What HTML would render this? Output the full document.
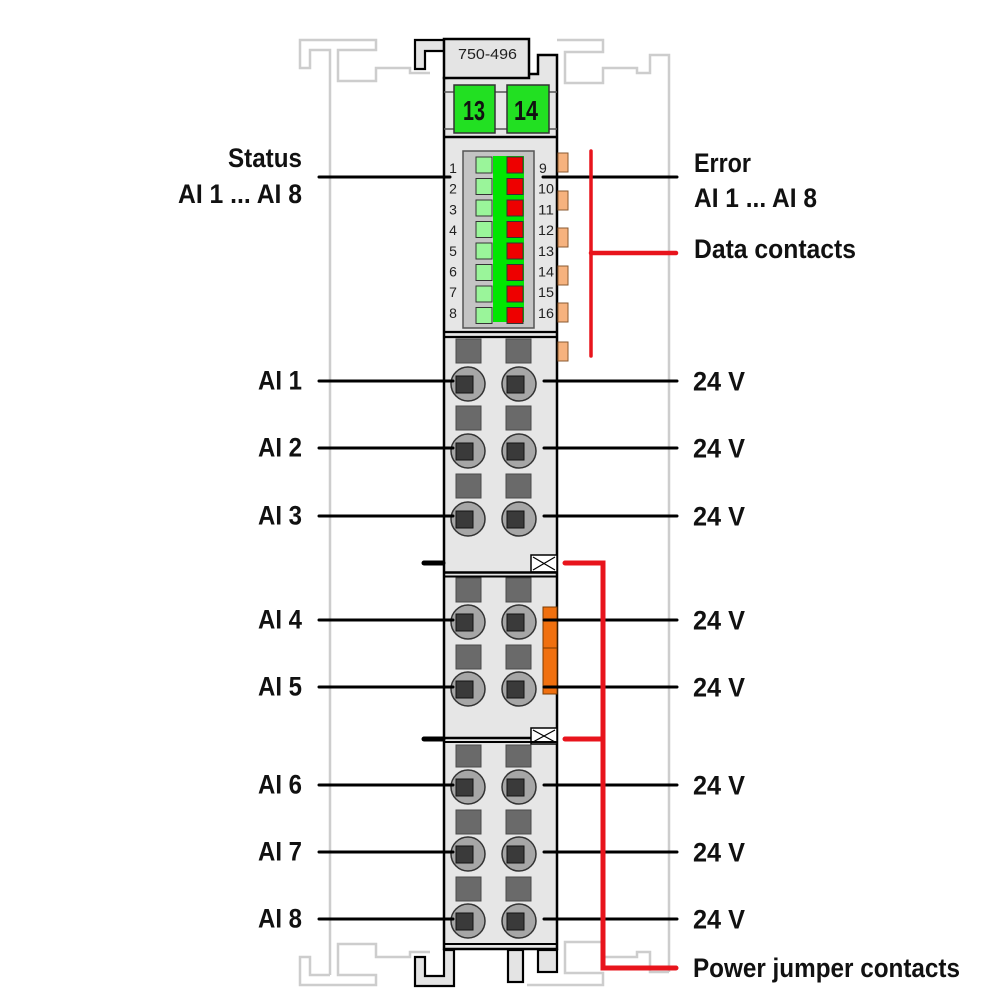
<!DOCTYPE html>
<html><head><meta charset="utf-8"><style>
html,body{margin:0;padding:0;background:#fff;}
svg{display:block;}
text{font-family:"Liberation Sans",Arial,sans-serif;}
.lbl{font-size:27px;font-weight:bold;fill:#111;}
.num{font-size:14px;fill:#222;}
</style></head><body>
<svg width="1004" height="1005" viewBox="0 0 1004 1005" xmlns="http://www.w3.org/2000/svg">
<rect width="1004" height="1005" fill="#fff"/>
<!-- DIN rail outline -->
<g fill="none" stroke="#cdcdcd" stroke-width="2.5">
<path d="M330,975 L330,50 L310,50 L310,68 L300,68 L300,40 L376,40 L376,50 L338,50 L338,81 L376,81 L376,68 L410,68 L410,73 L430,73"/>
<path d="M330,975 L310,975 L310,957 L300,957 L300,985 L376,985 L376,975 L338,975 L338,944 L376,944 L376,957 L410,957 L410,952 L430,952"/>
<path d="M557,40 L603,40 L603,52 L565,52 L565,83 L603,83 L603,68 L637,68 L637,73 L650,73 L650,55 L669,55 L669,972"/>
<path d="M669,972 L650,972 L650,952 L637,952 L637,957 L603,957 L603,942 L565,942 L565,973 L603,973 L603,985 L527,985"/>
</g>

<!-- module body -->
<path d="M444,78 L444,949 L557,949 L557,55 L538,55 L538,74 L529,74 Z" fill="#e6e6e6" stroke="#000" stroke-width="2.5"/>
<!-- top hook -->
<polygon points="444,40 415,40 415,69 425,69 425,51 444,51" fill="#e4e4e4" stroke="#000" stroke-width="2.2"/>
<!-- label box -->
<rect x="444" y="39" width="85" height="39" fill="#e4e4e4" stroke="#000" stroke-width="2.5"/>
<text x="458" y="59" class="num" style="font-size:15px" textLength="59" lengthAdjust="spacingAndGlyphs">750-496</text>

<!-- green jumper area -->
<line x1="444" y1="92" x2="557" y2="92" stroke="#555" stroke-width="1.5"/>
<line x1="444" y1="129" x2="557" y2="129" stroke="#555" stroke-width="1.5"/>
<line x1="444" y1="137" x2="557" y2="137" stroke="#000" stroke-width="2.5"/>
<rect x="454" y="85" width="41" height="48" fill="#22e022" stroke="#333" stroke-width="1.5"/>
<rect x="507" y="85" width="42" height="48" fill="#22e022" stroke="#333" stroke-width="1.5"/>
<text x="463" y="120" style="font-size:28px;font-weight:bold;fill:#111" textLength="22" lengthAdjust="spacingAndGlyphs">13</text>
<text x="514" y="120" style="font-size:28px;font-weight:bold;fill:#111" textLength="24" lengthAdjust="spacingAndGlyphs">14</text>

<!-- LED panel -->
<rect x="463" y="151" width="71" height="177" fill="#c4c4c4" stroke="#555" stroke-width="1.5"/>
<rect x="493" y="156" width="31" height="166" fill="#00e600"/>
<g stroke="#333" stroke-width="1">
<rect x="476" y="157" width="16" height="16" fill="#9af59a"/>
<rect x="476" y="178.5" width="16" height="16" fill="#9af59a"/>
<rect x="476" y="200" width="16" height="16" fill="#9af59a"/>
<rect x="476" y="221.5" width="16" height="16" fill="#9af59a"/>
<rect x="476" y="243" width="16" height="16" fill="#9af59a"/>
<rect x="476" y="264.5" width="16" height="16" fill="#9af59a"/>
<rect x="476" y="286" width="16" height="16" fill="#9af59a"/>
<rect x="476" y="307.5" width="16" height="16" fill="#9af59a"/>
<rect x="507" y="157" width="16" height="16" fill="#ee0000"/>
<rect x="507" y="178.5" width="16" height="16" fill="#ee0000"/>
<rect x="507" y="200" width="16" height="16" fill="#ee0000"/>
<rect x="507" y="221.5" width="16" height="16" fill="#ee0000"/>
<rect x="507" y="243" width="16" height="16" fill="#ee0000"/>
<rect x="507" y="264.5" width="16" height="16" fill="#ee0000"/>
<rect x="507" y="286" width="16" height="16" fill="#ee0000"/>
<rect x="507" y="307.5" width="16" height="16" fill="#ee0000"/>
</g>
<g class="num" text-anchor="middle">
<text x="453" y="173" class="num">1</text>
<text x="453" y="193.7" class="num">2</text>
<text x="453" y="214.4" class="num">3</text>
<text x="453" y="235.1" class="num">4</text>
<text x="453" y="255.8" class="num">5</text>
<text x="453" y="276.5" class="num">6</text>
<text x="453" y="297.2" class="num">7</text>
<text x="453" y="317.9" class="num">8</text>
</g>
<g>
<text x="539" y="173" class="num">9</text>
<text x="538" y="193.7" class="num" textLength="16" lengthAdjust="spacingAndGlyphs">10</text>
<text x="538" y="214.4" class="num" textLength="16" lengthAdjust="spacingAndGlyphs">11</text>
<text x="538" y="235.1" class="num" textLength="16" lengthAdjust="spacingAndGlyphs">12</text>
<text x="538" y="255.8" class="num" textLength="16" lengthAdjust="spacingAndGlyphs">13</text>
<text x="538" y="276.5" class="num" textLength="16" lengthAdjust="spacingAndGlyphs">14</text>
<text x="538" y="297.2" class="num" textLength="16" lengthAdjust="spacingAndGlyphs">15</text>
<text x="538" y="317.9" class="num" textLength="16" lengthAdjust="spacingAndGlyphs">16</text>
</g>

<!-- data contacts -->
<g fill="#f6b27e" stroke="#8a5a30" stroke-width="1">
<rect x="558" y="153" width="10" height="19"/>
<rect x="558" y="191" width="10" height="19"/>
<rect x="558" y="228" width="10" height="19"/>
<rect x="558" y="266" width="10" height="19"/>
<rect x="558" y="303" width="10" height="19"/>
<rect x="558" y="342" width="10" height="19"/>
</g>

<!-- separator below LEDs -->
<line x1="444" y1="332" x2="557" y2="332" stroke="#000" stroke-width="2.2"/>
<line x1="444" y1="337" x2="557" y2="337" stroke="#000" stroke-width="2.2"/>

<!-- jumper notches -->
<rect x="531" y="555" width="26" height="17" fill="#fff" stroke="#000" stroke-width="1.5"/>
<path d="M533,557 L555,570 M533,570 L555,557" stroke="#000" stroke-width="1.2"/>
<line x1="444" y1="572.5" x2="557" y2="572.5" stroke="#000" stroke-width="2.5"/>
<line x1="444" y1="576.5" x2="557" y2="576.5" stroke="#000" stroke-width="2"/>

<rect x="531" y="728" width="26" height="16" fill="#fff" stroke="#000" stroke-width="1.5"/>
<path d="M533,730 L555,742 M533,742 L555,730" stroke="#000" stroke-width="1.2"/>
<line x1="444" y1="738" x2="531" y2="738" stroke="#000" stroke-width="2.5"/>
<line x1="444" y1="742" x2="557" y2="742" stroke="#000" stroke-width="2"/>

<!-- orange bar -->
<rect x="543" y="607" width="14" height="87" fill="#f0700f" stroke="#7a3a00" stroke-width="1"/>
<line x1="543" y1="648" x2="557" y2="648" stroke="#7a3a00" stroke-width="1"/>

<!-- terminals -->
<g id="terms">
<g fill="#6a6a6a" stroke="#4a4a4a" stroke-width="1">
<rect x="456" y="339" width="25" height="24"/><rect x="506" y="339" width="25" height="24"/>
<rect x="456" y="406" width="25" height="24"/><rect x="506" y="406" width="25" height="24"/>
<rect x="456" y="474" width="25" height="24"/><rect x="506" y="474" width="25" height="24"/>
<rect x="456" y="578" width="25" height="24"/><rect x="506" y="578" width="25" height="24"/>
<rect x="456" y="645" width="25" height="24"/><rect x="506" y="645" width="25" height="24"/>
<rect x="456" y="745" width="25" height="22"/><rect x="506" y="745" width="25" height="22"/>
<rect x="456" y="810" width="25" height="24"/><rect x="506" y="810" width="25" height="24"/>
<rect x="456" y="877" width="25" height="24"/><rect x="506" y="877" width="25" height="24"/>
</g>
<g fill="#a6a6a6" stroke="#333" stroke-width="1.5">
<circle cx="468" cy="384" r="17"/><circle cx="519" cy="384" r="17"/>
<circle cx="468" cy="451" r="17"/><circle cx="519" cy="451" r="17"/>
<circle cx="468" cy="519" r="17"/><circle cx="519" cy="519" r="17"/>
<circle cx="468" cy="622" r="17"/><circle cx="519" cy="622" r="17"/>
<circle cx="468" cy="689" r="17"/><circle cx="519" cy="689" r="17"/>
<circle cx="468" cy="787" r="17"/><circle cx="519" cy="787" r="17"/>
<circle cx="468" cy="854" r="17"/><circle cx="519" cy="854" r="17"/>
<circle cx="468" cy="921" r="17"/><circle cx="519" cy="921" r="17"/>
</g>
<g fill="#3a3a3a" stroke="#111" stroke-width="1">
<rect x="456" y="376" width="17" height="17"/><rect x="507" y="376" width="17" height="17"/>
<rect x="456" y="443" width="17" height="17"/><rect x="507" y="443" width="17" height="17"/>
<rect x="456" y="511" width="17" height="17"/><rect x="507" y="511" width="17" height="17"/>
<rect x="456" y="614" width="17" height="17"/><rect x="507" y="614" width="17" height="17"/>
<rect x="456" y="681" width="17" height="17"/><rect x="507" y="681" width="17" height="17"/>
<rect x="456" y="779" width="17" height="17"/><rect x="507" y="779" width="17" height="17"/>
<rect x="456" y="846" width="17" height="17"/><rect x="507" y="846" width="17" height="17"/>
<rect x="456" y="913" width="17" height="17"/><rect x="507" y="913" width="17" height="17"/>
</g>
</g>

<!-- bottom -->
<line x1="444" y1="944" x2="557" y2="944" stroke="#000" stroke-width="2"/>
<polygon points="415,957 425,957 425,976 444,976 444,950 454,950 454,986 415,986" fill="#e4e4e4" stroke="#000" stroke-width="2.2"/>
<rect x="508" y="950" width="15" height="32" fill="#e4e4e4" stroke="#000" stroke-width="2.2"/>
<rect x="538" y="950" width="19" height="22" fill="#e4e4e4" stroke="#000" stroke-width="2.2"/>

<!-- black leader lines -->
<g stroke="#000" stroke-width="3" stroke-linecap="round">
<line x1="319" y1="177" x2="450" y2="177"/>
<line x1="543" y1="177" x2="677" y2="177"/>
<line x1="319" y1="381" x2="453" y2="381"/><line x1="544" y1="381" x2="677" y2="381"/>
<line x1="319" y1="448" x2="453" y2="448"/><line x1="544" y1="448" x2="677" y2="448"/>
<line x1="319" y1="516" x2="453" y2="516"/><line x1="544" y1="516" x2="677" y2="516"/>
<line x1="319" y1="620" x2="453" y2="620"/><line x1="544" y1="620" x2="677" y2="620"/>
<line x1="319" y1="687" x2="453" y2="687"/><line x1="544" y1="687" x2="677" y2="687"/>
<line x1="319" y1="785" x2="453" y2="785"/><line x1="544" y1="785" x2="677" y2="785"/>
<line x1="319" y1="852" x2="453" y2="852"/><line x1="544" y1="852" x2="677" y2="852"/>
<line x1="319" y1="919" x2="453" y2="919"/><line x1="544" y1="919" x2="677" y2="919"/>
</g>
<g stroke="#000" stroke-width="5" stroke-linecap="round">
<line x1="424" y1="563" x2="443" y2="563"/>
<line x1="424" y1="739" x2="443" y2="739"/>
</g>

<!-- red lines -->
<g stroke="#e8141c" fill="none" stroke-linecap="round">
<line x1="591" y1="151" x2="591" y2="356" stroke-width="3.5"/>
<line x1="591" y1="253" x2="676" y2="253" stroke-width="4.5"/>
<path d="M565,563 L603,563 L603,968 L676,968" stroke-width="5" stroke-linejoin="miter"/>
<line x1="565" y1="739" x2="603" y2="739" stroke-width="5"/>
</g>

<!-- labels -->
<text x="228" y="167" class="lbl" textLength="74" lengthAdjust="spacingAndGlyphs">Status</text>
<text x="178" y="203" class="lbl" textLength="124" lengthAdjust="spacingAndGlyphs">AI 1 ... AI 8</text>
<text x="694" y="172" class="lbl" textLength="57" lengthAdjust="spacingAndGlyphs">Error</text>
<text x="694" y="207" class="lbl" textLength="123" lengthAdjust="spacingAndGlyphs">AI 1 ... AI 8</text>
<text x="694" y="258" class="lbl" textLength="162" lengthAdjust="spacingAndGlyphs">Data contacts</text>

<text x="258" y="389.5" class="lbl" textLength="44" lengthAdjust="spacingAndGlyphs">AI 1</text>
<text x="258" y="456.5" class="lbl" textLength="44" lengthAdjust="spacingAndGlyphs">AI 2</text>
<text x="258" y="524.5" class="lbl" textLength="44" lengthAdjust="spacingAndGlyphs">AI 3</text>
<text x="258" y="628.5" class="lbl" textLength="44" lengthAdjust="spacingAndGlyphs">AI 4</text>
<text x="258" y="695.5" class="lbl" textLength="44" lengthAdjust="spacingAndGlyphs">AI 5</text>
<text x="258" y="793.5" class="lbl" textLength="44" lengthAdjust="spacingAndGlyphs">AI 6</text>
<text x="258" y="860.5" class="lbl" textLength="44" lengthAdjust="spacingAndGlyphs">AI 7</text>
<text x="258" y="927.5" class="lbl" textLength="44" lengthAdjust="spacingAndGlyphs">AI 8</text>

<text x="693" y="390.5" class="lbl" textLength="52" lengthAdjust="spacingAndGlyphs">24 V</text>
<text x="693" y="457.5" class="lbl" textLength="52" lengthAdjust="spacingAndGlyphs">24 V</text>
<text x="693" y="525.5" class="lbl" textLength="52" lengthAdjust="spacingAndGlyphs">24 V</text>
<text x="693" y="629.5" class="lbl" textLength="52" lengthAdjust="spacingAndGlyphs">24 V</text>
<text x="693" y="696.5" class="lbl" textLength="52" lengthAdjust="spacingAndGlyphs">24 V</text>
<text x="693" y="794.5" class="lbl" textLength="52" lengthAdjust="spacingAndGlyphs">24 V</text>
<text x="693" y="861.5" class="lbl" textLength="52" lengthAdjust="spacingAndGlyphs">24 V</text>
<text x="693" y="928.5" class="lbl" textLength="52" lengthAdjust="spacingAndGlyphs">24 V</text>

<text x="693" y="977" class="lbl" textLength="267" lengthAdjust="spacingAndGlyphs">Power jumper contacts</text>
</svg>
</body></html>
